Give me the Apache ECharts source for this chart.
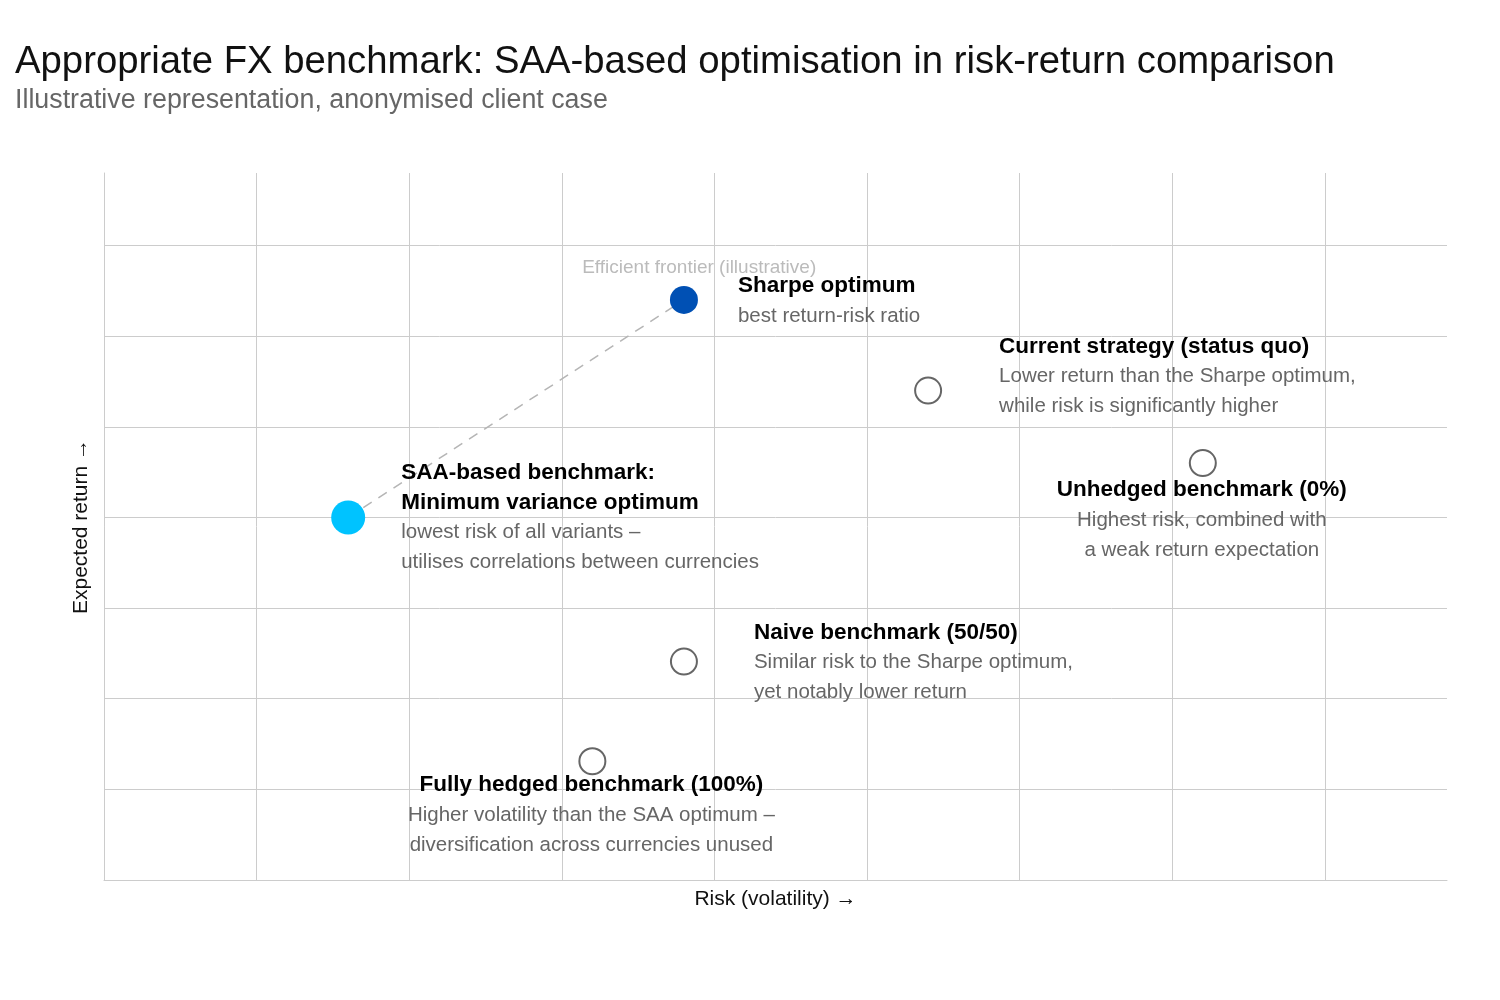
<!DOCTYPE html>
<html>
<head>
<meta charset="utf-8">
<script src="https://cdn.jsdelivr.net/npm/echarts@6/dist/echarts.min.js"></script>
<style>
  html, body { margin: 0; padding: 0; background: #fff; }
  #chart { width: 1500px; height: 1000px; }
</style>
</head>
<body>
<div id="chart"></div>
<script>
// risk (x) and expected return (y), illustrative units
var names = ['SAA-based benchmark:\nMinimum variance optimum', 'Sharpe optimum', 'Current strategy (status quo)',
  'Unhedged benchmark (0%)', 'Naive benchmark (50/50)', 'Fully hedged benchmark (100%)'];
var descs = ['lowest risk of all variants –\nutilises correlations between currencies', 'best return-risk ratio',
  'Lower return than the Sharpe optimum,\nwhile risk is significantly higher', 'Highest risk, combined with\na weak return expectation',
  'Similar risk to the Sharpe optimum,\nyet notably lower return', 'Higher volatility than the SAA optimum –\ndiversification across currencies unused'];
var risk = [1.6, 3.8, 5.4, 7.2, 3.8, 3.2];
var ret = [4.0, 6.4, 5.4, 4.6, 2.41, 1.31];
var frontierLabel = 'Efficient frontier (illustrative)';
var frontierLabelPos = [3.9, 6.76];

var sizes = [34, 28, 26, 26, 26, 26];
var labelPos = [[70, -43], [68, -15], [85, -45], [13, 26], [84, -30], [13, 23]];
var labelAlign = ['left', 'left', 'left', 'center', 'left', 'center'];

function richFor(al) {
  return {
    t: { fontSize: 22.5, fontWeight: 'bold', color: '#000', lineHeight: 30, align: al },
    d: { fontSize: 20.5, color: '#666', lineHeight: 30, align: al }
  };
}

var points = risk.map(function (x, i) {
  var filled = i < 2;
  var titleTxt = names[i].split('\n').map(function (s) { return '{t|' + s + '}'; }).join('\n');
  var descTxt = descs[i].split('\n').map(function (s) { return '{d|' + s + '}'; }).join('\n');
  return {
    value: [x, ret[i]],
    symbolSize: sizes[i],
    itemStyle: filled
      ? { color: i === 0 ? '#00C3FF' : '#0050B4', borderWidth: 0, opacity: 1 }
      : { color: '#fff', borderColor: '#666', borderWidth: 2, opacity: 1 },
    label: {
      show: true,
      position: labelPos[i],
      align: labelAlign[i],
      verticalAlign: 'top',
      formatter: titleTxt + '\n' + descTxt,
      rich: richFor(labelAlign[i])
    }
  };
});

var myChart = echarts.init(document.getElementById('chart'));
var option = {
  animation: false,
  textStyle: { fontFamily: 'Liberation Sans, Arial, sans-serif' },
  title: {
    text: 'Appropriate FX benchmark: SAA-based optimisation in risk-return comparison',
    subtext: 'Illustrative representation, anonymised client case',
    left: 10,
    top: 38,
    itemGap: 6,
    textStyle: { fontSize: 38.3, fontWeight: 'normal', color: '#111' },
    subtextStyle: { fontSize: 26.8, color: '#666' }
  },
  grid: { left: 104, right: 53, top: 173, bottom: 120 },
  xAxis: {
    type: 'value', min: 0, max: 8.8, interval: 1,
    name: 'Risk (volatility) →', nameLocation: 'middle', nameGap: 9,
    nameTextStyle: { fontSize: 21, color: '#111' },
    axisLabel: { show: false }, axisTick: { show: false },
    axisLine: { show: true, lineStyle: { color: '#ccc' } },
    splitLine: { show: true, showMaxLine: false, lineStyle: { color: '#ccc' } }
  },
  yAxis: {
    type: 'value', min: 0, max: 7.8, interval: 1,
    name: 'Expected return →', nameLocation: 'middle', nameGap: 12,
    nameTextStyle: { fontSize: 21, color: '#111' },
    axisLabel: { show: false }, axisTick: { show: false },
    axisLine: { show: true, lineStyle: { color: '#ccc' } },
    splitLine: { show: true, showMaxLine: false, lineStyle: { color: '#ccc' } }
  },
  series: [
    {
      type: 'line',
      data: [[risk[0], ret[0]], [risk[1], ret[1]]],
      symbol: 'none',
      lineStyle: { color: '#b5b5b5', width: 1.5, type: [10, 8] },
      z: 1
    },
    {
      type: 'scatter',
      data: [frontierLabelPos],
      symbolSize: 0,
      label: { show: true, position: 'inside', formatter: frontierLabel, fontSize: 19, color: '#aaa' },
      z: 1
    },
    {
      type: 'scatter',
      data: points,
      z: 3
    }
  ]
};
myChart.setOption(option);
</script>
</body>
</html>
